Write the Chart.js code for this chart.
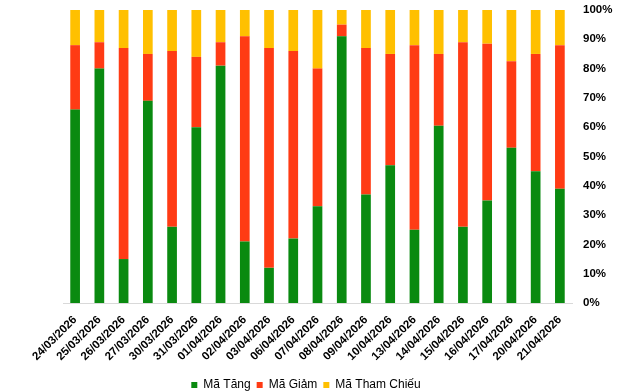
<!DOCTYPE html>
<html>
<head>
<meta charset="utf-8">
<script src="https://cdn.jsdelivr.net/npm/chart.js@4/dist/chart.umd.min.js"></script>
<style>
  html, body { margin: 0; padding: 0; background: #fff; }
  #wrap { width: 641px; height: 391px; }
</style>
</head>
<body>
<div id="wrap"><canvas id="chartBreadth"></canvas></div>
<script>
// ngày giao dịch
let dates = [
	"24/03/2026", "25/03/2026", "26/03/2026", "27/03/2026", "30/03/2026",
	"31/03/2026", "01/04/2026", "02/04/2026", "03/04/2026", "06/04/2026",
	"07/04/2026", "08/04/2026", "09/04/2026", "10/04/2026", "13/04/2026",
	"14/04/2026", "15/04/2026", "16/04/2026", "17/04/2026", "20/04/2026",
	"21/04/2026"
];

// tỷ lệ (%) mỗi ngày
let maTang = [66, 80, 15, 69, 26, 60, 81, 21, 12, 22, 33, 91, 37, 47, 25, 60.5, 26, 35, 53, 45, 39];
let maGiam = [22, 9, 72, 16, 60, 24, 8, 70, 75, 64, 47, 4, 50, 38, 63, 24.5, 63, 53.5, 29.5, 40, 49];
let maThamChieu = [12, 11, 13, 15, 14, 16, 11, 9, 13, 14, 20, 5, 13, 15, 12, 15, 11, 11.5, 17.5, 15, 12];

let yTicks = [0, 10, 20, 30, 40, 50, 60, 70, 80, 90, 100];

let ctx = document.getElementById("chartBreadth");

let data = {
	labels: dates,
	datasets: [
		{ label: "Mã Tăng", data: maTang, backgroundColor: "#0a8a10" },
		{ label: "Mã Giảm", data: maGiam, backgroundColor: "#ff3b14" },
		{ label: "Mã Tham Chiếu", data: maThamChieu, backgroundColor: "#ffc000" }
	]
};

let tickFont = { family: "'Liberation Sans', Arial, sans-serif", size: 11.5, weight: "bold" };

// đặt chú thích lệch trái như bản gốc
let legendShift = {
	id: "legendShift",
	afterLayout: function(chart) {
		chart.legend.left = 0;
		chart.legend.right = 612;
	}
};

let options = {
	responsive: true,
	maintainAspectRatio: false,
	animation: false,
	layout: { padding: { left: 63, top: 10, right: 0, bottom: -10 } },
	datasets: { bar: { barPercentage: 0.4, categoryPercentage: 1 } },
	plugins: {
		legend: {
			position: "bottom",
			labels: {
				color: "#000",
				boxWidth: 6,
				boxHeight: 6,
				padding: 6,
				font: { family: "'Liberation Sans', Arial, sans-serif", size: 12 }
			}
		},
		tooltip: { enabled: false }
	},
	scales: {
		x: {
			stacked: true,
			grid: { display: false },
			border: { display: true, color: "#d9d9d9", width: 1 },
			ticks: {
				color: "#000",
				font: tickFont,
				autoSkip: false,
				minRotation: 45,
				maxRotation: 45,
				padding: 2
			},
			afterFit: function(scale) { scale.height = 70; }
		},
		y: {
			stacked: true,
			position: "right",
			min: 0,
			max: 100,
			grid: { display: false, drawTicks: false },
			border: { display: false },
			afterBuildTicks: function(scale) {
				scale.ticks = yTicks.map(function(v) { return { value: v }; });
			},
			ticks: {
				color: "#000",
				font: tickFont,
				padding: 11,
				callback: function(v) { return v + "%"; }
			},
			afterFit: function(scale) {
				scale.width = 69;
				scale.paddingTop = 7;
				scale.paddingBottom = 7;
			}
		}
	}
};

let breadthChart = new Chart(ctx, {
	type: "bar",
	data: data,
	options: options,
	plugins: [legendShift]
});
</script>
</body>
</html>
